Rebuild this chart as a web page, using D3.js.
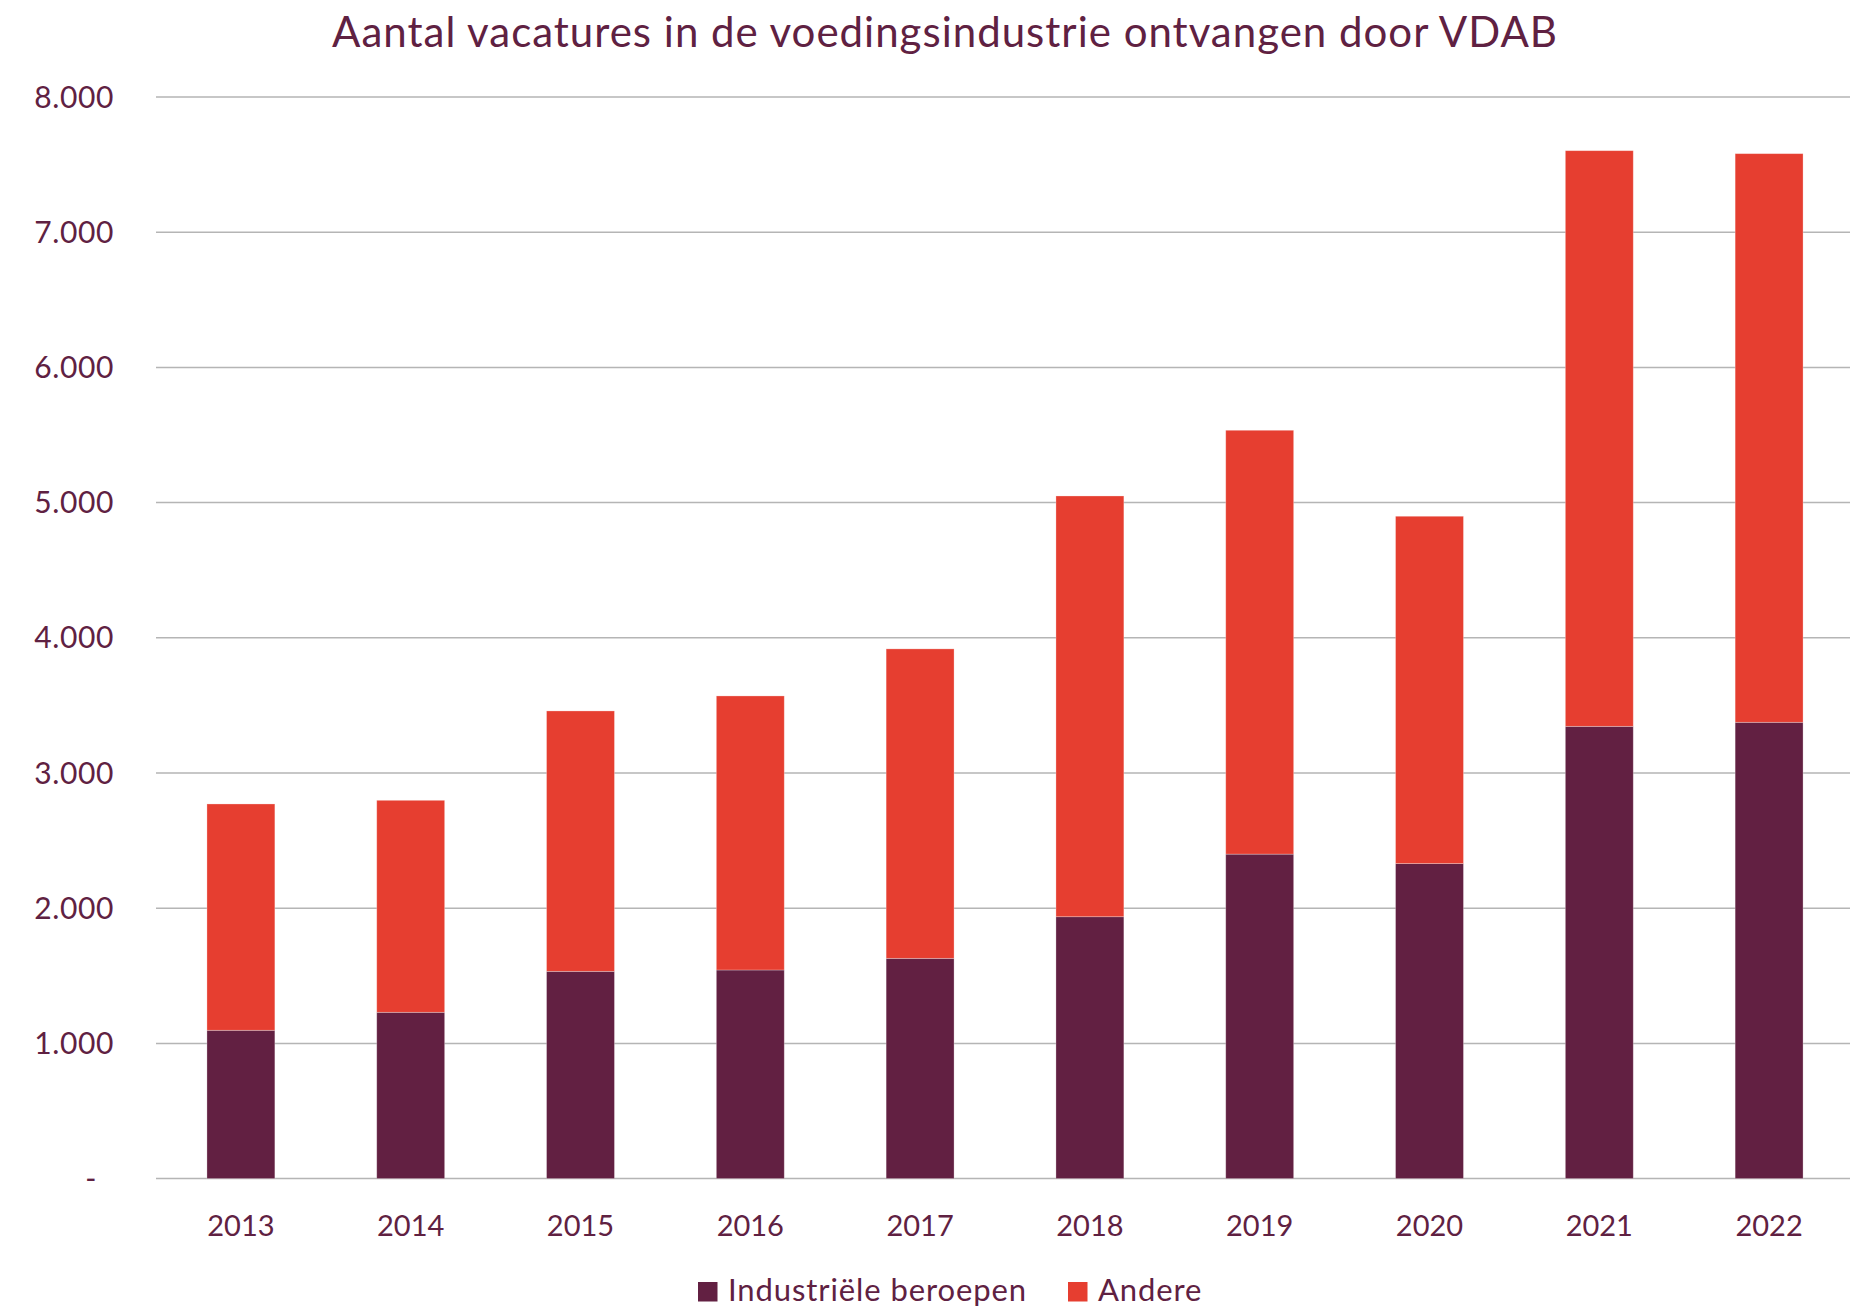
<!DOCTYPE html>
<html>
<head>
<meta charset="utf-8">
<script src="https://cdn.jsdelivr.net/npm/d3@7"></script>
<style>
  body { margin: 0; background: #fff; }
  text { font-family: Lato, "Noto Sans", sans-serif; fill: #5f2142; }
</style>
</head>
<body>
<div id="chart"></div>
<script>
var years = ["2013", "2014", "2015", "2016", "2017", "2018", "2019", "2020", "2021", "2022"];
var industrieel = [1097, 1230, 1533, 1543, 1629, 1937, 2400, 2330, 3345, 3375];
var andere = [1674, 1568, 1926, 2027, 2289, 3112, 3135, 2569, 4258, 4206];
var yTicks = [0, 1000, 2000, 3000, 4000, 5000, 6000, 7000, 8000];
var seriesNames = ["Industriële beroepen", "Andere"];
var colors = ["#622042", "#e63e30"];

var width = 1850, height = 1309;

var rows = years.map(function(y, i) {
    return { year: y, ind: industrieel[i], and: andere[i] };
});

var svg = d3.select("#chart").append("svg")
    .attr("width", width)
    .attr("height", height);

var x = d3.scaleBand()
    .domain(years)
    .range([156, 1854])
    .paddingInner(0.6)
    .paddingOuter(0.3);

var y = d3.scaleLinear()
    .domain([0, 8000])
    .range([1178.6, 97]);

// title
svg.append("text")
    .attr("x", 945)
    .attr("y", 47)
    .attr("text-anchor", "middle")
    .style("font-size", "42px")
    .style("letter-spacing", "1px")
    .text("Aantal vacatures in de voedingsindustrie ontvangen door VDAB");

// grid lines
svg.selectAll("line.grid")
    .data(yTicks)
    .enter().append("line")
        .attr("class", "grid")
        .attr("x1", 156)
        .attr("x2", 1850)
        .attr("y1", function(d) { return y(d); })
        .attr("y2", function(d) { return y(d); })
        .attr("stroke", "#b5b5b5")
        .attr("stroke-width", 1.5);

// y labels
svg.selectAll("text.ytick")
    .data(yTicks)
    .enter().append("text")
        .attr("class", "ytick")
        .attr("x", function(d) { return d === 0 ? 97 : 114; })
        .attr("y", function(d) { return y(d); })
        .attr("dy", "0.35em")
        .attr("text-anchor", "end")
        .style("font-size", "30px")
        .style("letter-spacing", "0.6px")
        .text(function(d) { return d === 0 ? "-" : d3.format(",")(d).replace(/,/g, "."); });

var stack = d3.stack().keys(["ind", "and"]);
var layers = stack(rows);

svg.selectAll("g.layer")
    .data(layers)
    .enter().append("g")
        .attr("class", "layer")
        .attr("fill", function(d, i) { return colors[i]; })
    .selectAll("rect")
    .data(function(d) { return d; })
    .enter().append("rect")
        .attr("x", function(d) { return x(d.data.year); })
        .attr("width", x.bandwidth())
        .attr("y", function(d) { return y(d[1]); })
        .attr("height", function(d) { return y(d[0]) - y(d[1]); })
        .attr("stroke", "#fff")
        .attr("stroke-opacity", 0.35)
        .attr("stroke-width", 0.8);

// x labels
svg.selectAll("text.xtick")
    .data(years)
    .enter().append("text")
        .attr("class", "xtick")
        .attr("x", function(d) { return x(d) + x.bandwidth() / 2; })
        .attr("y", 1236)
        .attr("text-anchor", "middle")
        .style("font-size", "29px")
        .text(function(d) { return d; });

// legend
var legendX = [698, 1068];
var leg = svg.selectAll("g.legend")
    .data(seriesNames)
    .enter().append("g")
        .attr("class", "legend")
        .attr("transform", function(d, i) { return "translate(" + legendX[i] + ",0)"; });

leg.append("rect")
    .attr("x", 0)
    .attr("y", 1282)
    .attr("width", 19.5)
    .attr("height", 19.5)
    .attr("fill", function(d, i) { return colors[i]; });

leg.append("text")
    .attr("x", 30)
    .attr("y", 1300.5)
    .style("font-size", "31px")
    .style("letter-spacing", "0.9px")
    .text(function(d) { return d; });
</script>
</body>
</html>
